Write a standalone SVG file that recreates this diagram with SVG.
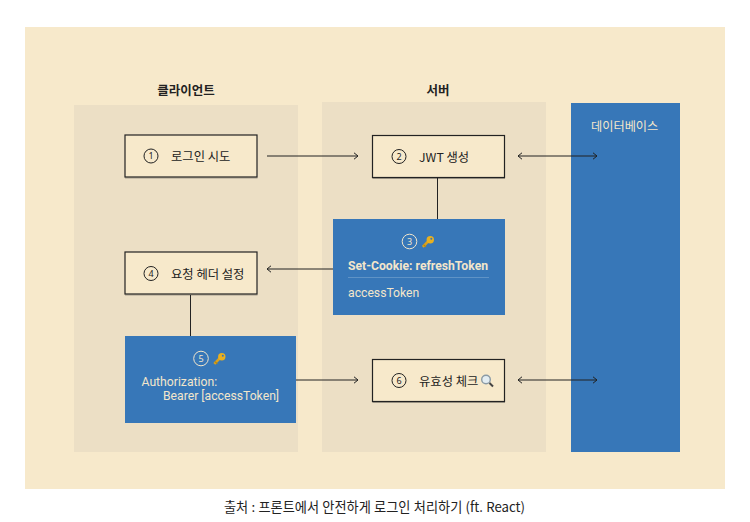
<svg xmlns="http://www.w3.org/2000/svg" width="750" height="522" viewBox="0 0 750 522">
<style>
text{font-family:"Noto Sans CJK KR","Noto Sans",sans-serif;fill:#222}
.lane{fill:#ecdfc5}
.box{fill:#f7e9cb;stroke:#222;stroke-width:1.2}
.sh{fill:none;stroke:#222;stroke-opacity:.35;stroke-width:1}
.blue{fill:#3777b8}
.t{font-size:12.3px}
.h{font-size:12.5px;font-weight:700;text-anchor:middle}
.w{fill:#f3e6cb;font-family:Roboto,"Noto Sans",sans-serif;font-size:12.2px}
.c{fill:none;stroke:#222;stroke-width:1}
.cw{fill:none;stroke:#f3e6cb;stroke-width:1}
.n{font-size:9px;text-anchor:middle;font-family:"Noto Sans",sans-serif}
.con{fill:none;stroke:#222;stroke-width:1}
</style>
<defs>
<marker id="a" markerWidth="7" markerHeight="8" refX="5.500" refY="4" orient="auto-start-reverse" markerUnits="userSpaceOnUse"><path d="M1.500 .8L5.500 4L1.500 7.200" fill="none" stroke="#222" stroke-width="1"/></marker>
<g id="key"><path d="M.8 10.800L7 4.500" stroke="#d9a11e" stroke-width="2.600" fill="none"/><path d="M1.500 8.600L3.800 10.900" stroke="#b8860b" stroke-width="1.300"/><circle cx="8.300" cy="3.700" r="3.700" fill="#e8b020"/><circle cx="9.300" cy="2.700" r="1" fill="#3777b8"/></g>
</defs>
<rect width="750" height="522" fill="#fff"/>
<rect x="25" y="27" width="700" height="462" fill="#f7e9cb"/>
<rect class="lane" x="74" y="105" width="224" height="347"/>
<rect class="lane" x="322" y="102" width="224" height="350"/>
<rect class="blue" x="571" y="103" width="109" height="349"/>
<text class="h" x="186" y="95">클라이언트</text>
<text class="h" x="438" y="95">서버</text>
<g id="connectors">
<path class="con" d="M267 156H358" marker-end="url(#a)"/>
<path class="con" d="M518 156H597" marker-start="url(#a)" marker-end="url(#a)"/>
<path class="con" d="M437.500 178V219"/>
<path class="con" d="M333 269H267" marker-end="url(#a)"/>
<path class="con" d="M190.500 295V336"/>
<path class="con" d="M296 380H358" marker-end="url(#a)"/>
<path class="con" d="M518 380H597" marker-start="url(#a)" marker-end="url(#a)"/>
</g>
<g id="db"><text x="591" y="130.500" style="fill:#f3e6cb;font-size:12.200px">데이터베이스</text></g>
<g id="n1"><path class="sh" d="M125 178H257.500"/><rect class="box" x="125" y="135" width="132" height="42"/><circle class="c" cx="151" cy="156" r="7"/><text class="n" x="151" y="159.200">1</text><text class="t" x="171" y="160.500">로그인 시도</text></g>
<g id="n2"><path class="sh" d="M372.500 178.500H505"/><rect class="box" x="372.500" y="135.500" width="132" height="42"/><circle class="c" cx="399" cy="156.500" r="7"/><text class="n" x="399" y="159.700">2</text><text class="t" x="419" y="161.500">JWT 생성</text></g>
<g id="n3"><rect class="blue" x="333" y="219" width="172" height="96"/><circle class="cw" cx="409.500" cy="241.500" r="7.300"/><text class="n" x="409.500" y="244.700" style="fill:#f3e6cb">3</text><use href="#key" x="422" y="236"/><text class="w" x="348" y="269.500" font-weight="700">Set-Cookie: refreshToken</text><path d="M348 277.500H489" stroke="#5f93c6" stroke-width="1"/><text class="w" x="348" y="297">accessToken</text></g>
<g id="n4"><path class="sh" d="M125 295H257.500"/><rect class="box" x="125" y="252" width="132" height="42"/><circle class="c" cx="151" cy="273.500" r="7"/><text class="n" x="151" y="276.700">4</text><text class="t" x="171" y="278.500">요청 헤더 설정</text></g>
<g id="n5"><rect class="blue" x="125" y="336" width="171" height="87"/><circle class="cw" cx="201" cy="358.500" r="7.300"/><text class="n" x="201" y="361.700" style="fill:#f3e6cb">5</text><use href="#key" x="213.500" y="353"/><text class="w" x="141.500" y="386">Authorization:</text><text class="w" x="163" y="400">Bearer [accessToken]</text></g>
<g id="n6"><path class="sh" d="M372.500 402.500H505"/><rect class="box" x="372.500" y="359.500" width="132" height="42"/><circle class="c" cx="399" cy="380.500" r="7"/><text class="n" x="399" y="383.700">6</text><text class="t" x="419" y="385.500">유효성 체크</text><circle cx="486" cy="379.500" r="4.300" fill="#e3edf2" stroke="#8a9aa5" stroke-width="1.400"/><path d="M489.500 383L493 386.500" stroke="#444" stroke-width="2"/></g>
<text x="374.500" y="511.500" text-anchor="middle" style="font-size:13.200px;word-spacing:.3px">출처 : 프론트에서 안전하게 로그인 처리하기 (ft. React)</text>
</svg>
